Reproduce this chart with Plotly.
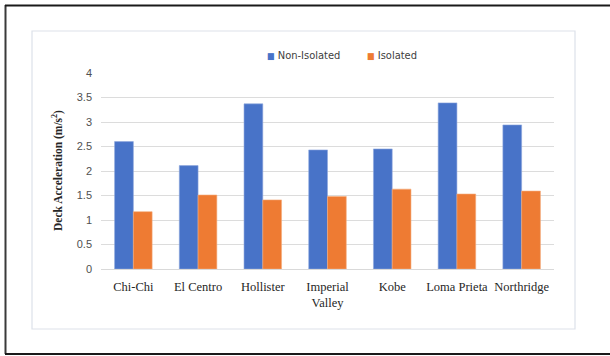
import plotly.graph_objects as go

# Peak deck acceleration (m/s²) per ground-motion record
records = ["Chi-Chi", "El Centro", "Hollister", "Imperial<br>Valley", "Kobe", "Loma Prieta", "Northridge"]
non_isolated = [2.60, 2.11, 3.37, 2.43, 2.45, 3.39, 2.94]
isolated = [1.17, 1.51, 1.41, 1.48, 1.63, 1.53, 1.59]
y_ticks = [0, 0.5, 1, 1.5, 2, 2.5, 3, 3.5, 4]

BLUE, ORANGE = "#4873c8", "#ee7b33"

W, H = 610, 356
L, R, T, B = 101, 554, 73, 269  # plot-area edges in pixels


def px_x(p):
    return (p - L) / (R - L)


def px_y(p):
    return (B - p) / (B - T)


fig = go.Figure()
fig.add_trace(go.Bar(
    name="Non-Isolated", x=records, y=non_isolated, showlegend=False,
    marker=dict(color=BLUE, line=dict(color="#8ea7de", width=0.6)),
))
fig.add_trace(go.Bar(
    name="Isolated", x=records, y=isolated, showlegend=False,
    marker=dict(color=ORANGE, line=dict(color="#f4ab7c", width=0.6)),
))

shapes = [
    # chart-area frame
    dict(type="rect", xref="paper", yref="paper",
         x0=px_x(32), x1=px_x(575), y0=px_y(329), y1=px_y(31),
         line=dict(color="#dde1e9", width=1.2), layer="below"),
    # outer page frame
    dict(type="line", xref="paper", yref="paper",
         x0=px_x(5.5), x1=px_x(5.5), y0=px_y(354), y1=px_y(5),
         line=dict(color="#3a3a3a", width=2)),
    dict(type="line", xref="paper", yref="paper",
         x0=px_x(5), x1=px_x(612), y0=px_y(5.5), y1=px_y(5.5),
         line=dict(color="#1a1a1a", width=2)),
    dict(type="line", xref="paper", yref="paper",
         x0=px_x(5), x1=px_x(612), y0=px_y(354), y1=px_y(354),
         line=dict(color="#1a1a1a", width=2)),
]

# compact legend: small colour swatch followed by the series name
legend_items = [("Non-Isolated", BLUE, 265), ("Isolated", ORANGE, 365)]
annotations = [
    dict(text=f"<span style='color:{c};font-size:9px'>■</span> {name}",
         xref="paper", yref="paper", x=px_x(x0), y=px_y(56),
         xanchor="left", yanchor="middle", showarrow=False,
         font=dict(family="DejaVu Sans Condensed, Liberation Sans", size=11, color="#404040"))
    for name, c, x0 in legend_items
]
annotations.append(dict(
    text="<b>Deck Acceleration (m/s<sup>2</sup>)</b>", textangle=-90,
    xref="paper", yref="paper", x=px_x(57), y=0.5,
    xanchor="center", yanchor="middle", showarrow=False,
    font=dict(family="Liberation Serif", size=11.5, color="#262626"),
))

fig.update_layout(
    width=W, height=H,
    margin=dict(l=L, r=W - R, t=T, b=H - B, pad=0),
    paper_bgcolor="white", plot_bgcolor="white",
    barmode="group", bargap=0.42, bargroupgap=0,
    xaxis=dict(showgrid=False, showline=True, linecolor="#d9d9d9", linewidth=1,
               ticks="", tickfont=dict(family="Liberation Serif", size=12.5, color="#262626"),
               ticklabelstandoff=6),
    yaxis=dict(range=[0, 4], tickvals=y_ticks, ticktext=[f"{v:g}" for v in y_ticks],
               showgrid=True, gridcolor="#dcdcdc", gridwidth=1, zeroline=False,
               showline=False, ticks="",
               tickfont=dict(family="Liberation Sans", size=11, color="#505050"),
               ticklabelstandoff=8),
    shapes=shapes,
    annotations=annotations,
)

fig.write_html("out.html")
